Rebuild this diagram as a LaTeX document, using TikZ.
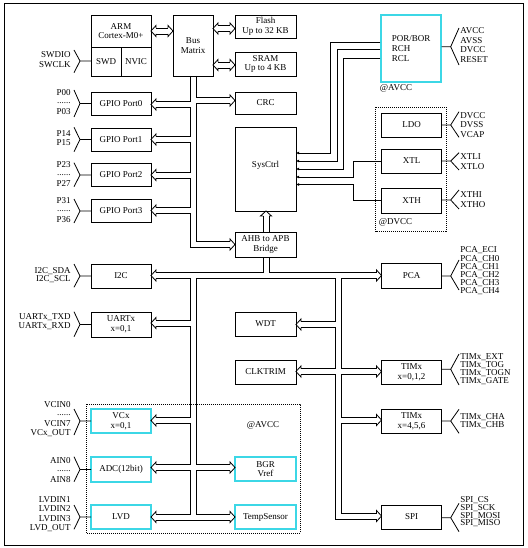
\documentclass[tikz,border=0pt]{standalone}
\usepackage{fontspec}
\setmainfont{Liberation Serif}
\usetikzlibrary{arrows.meta}
\definecolor{cyb}{RGB}{60,215,230}
\lineskiplimit=-100pt
\newcommand\arR[2]{\draw (#1-5,#2-3) -- (#1-5,#2-5.5) -- (#1,#2) -- (#1-5,#2+5.5) -- (#1-5,#2+3);}
\newcommand\arL[2]{\draw (#1+5,#2-3) -- (#1+5,#2-5.5) -- (#1,#2) -- (#1+5,#2+5.5) -- (#1+5,#2+3);}
\newcommand\arU[2]{\draw (#1-3,#2+5) -- (#1-5.5,#2+5) -- (#1,#2) -- (#1+5.5,#2+5) -- (#1+3,#2+5);}
\newcommand\rbr[3]{\draw (441.5,#1) -- (450.7,#1) (459,#2) -- (450.7,#1) -- (459,#3);}
\newcommand\lbr[3]{\draw (91,#1) -- (80,#1) (74,#2) -- (80,#1) -- (74,#3);}
\newcommand\dotrow{\smash{\raisebox{1.5pt}{......}}}
\begin{document}
\begin{tikzpicture}[x=1pt,y=-1pt,line width=0.8pt,
  box/.style={draw,inner sep=0pt,align=center,font=\fontsize{9}{9.8}\selectfont},
  cbox/.style={box,draw=cyb,line width=1.3pt},
  lab/.style={inner sep=0pt,font=\fontsize{9}{#1}\selectfont},
  dotbox/.style={dash pattern=on 0.8pt off 1.2pt},
  sarr/.style={-{Latex[length=3pt,width=3pt]}}]
\useasboundingbox (0,0) rectangle (527,548);
\draw[line width=1pt] (4,4) rectangle (523,545);

% dotted regions
\draw[dotbox] (375.7,107) rectangle (446.7,231.7);
\draw[dotbox] (86,404) rectangle (300,533);

% boxes
\node[box,minimum width=60pt,minimum height=32pt] (arm) at (121,31) {ARM\\Cortex-M0+};
\node[box,minimum width=30pt,minimum height=29pt] (swd) at (106,61.5) {SWD};
\node[box,minimum width=30pt,minimum height=29pt] (nvic) at (136,61.5) {NVIC};
\node[box,minimum width=40pt,minimum height=61pt] (busm) at (193,45.5) {Bus\\Matrix};
\node[box,minimum width=61pt,minimum height=23pt] (flash) at (265.5,26.5) {Flash\\Up to 32 KB};
\node[box,minimum width=61pt,minimum height=24pt] (sram) at (265.5,64) {SRAM\\Up to 4 KB};
\node[box,minimum width=61pt,minimum height=22pt] (crc) at (265.5,103) {CRC};
\node[box,minimum width=61pt,minimum height=84pt] (sysctrl) at (265.5,169) {};
\node[lab=9.8] (systxt) at (265.5,165) {SysCtrl};
\node[box,minimum width=61pt,minimum height=25pt] (bridge) at (265.5,244.5) {AHB to APB\\Bridge};
\node[box,minimum width=60pt,minimum height=23pt] (gpio0) at (121,103.5) {GPIO Port0};
\node[box,minimum width=60pt,minimum height=23pt] (gpio1) at (121,139.5) {GPIO Port1};
\node[box,minimum width=60pt,minimum height=23pt] (gpio2) at (121,175) {GPIO Port2};
\node[box,minimum width=60pt,minimum height=23pt] (gpio3) at (121,211) {GPIO Port3};
\node[box,minimum width=60pt,minimum height=24pt] (i2c) at (121,276) {I2C};
\node[box,minimum width=60pt,minimum height=25pt] (uart) at (121,324.5) {UARTx\\x=0,1};
\node[cbox,minimum width=60pt,minimum height=24pt] (vcx) at (121,421) {VCx\\x=0,1};
\node[cbox,minimum width=60pt,minimum height=25pt] (adc) at (121,469.5) {ADC(12bit)};
\node[cbox,minimum width=60pt,minimum height=24pt] (lvd) at (121,517) {LVD};
\node[cbox,minimum width=61pt,minimum height=24pt] (bgr) at (265.5,469) {BGR\\Vref};
\node[cbox,minimum width=61pt,minimum height=24pt] (temp) at (265.5,517) {TempSensor};
\node[box,minimum width=61pt,minimum height=24pt] (wdt) at (265.5,324) {WDT};
\node[box,minimum width=61pt,minimum height=24pt] (clk) at (265.5,372) {CLKTRIM};
\node[cbox,minimum width=60pt,minimum height=67pt,align=left] (por) at (411,48.5) {POR/BOR\\RCH\\RCL};
\node[box,minimum width=60pt,minimum height=24pt] (ldo) at (411.5,125) {LDO};
\node[box,minimum width=60pt,minimum height=24pt] (xtl) at (411.5,161) {XTL};
\node[box,minimum width=60pt,minimum height=25pt] (xth) at (411.5,200.5) {XTH};
\node[box,minimum width=60pt,minimum height=25pt] (pca) at (411.5,275.5) {PCA};
\node[box,minimum width=60pt,minimum height=24pt] (tim1) at (411.5,372) {TIMx\\x=0,1,2};
\node[box,minimum width=60pt,minimum height=24pt] (tim2) at (411.5,421) {TIMx\\x=4,5,6};
\node[box,minimum width=60pt,minimum height=24pt] (spi) at (411.5,517) {SPI};

\node[lab=9.8,anchor=west] (avcc1) at (379.5,88.3) {@AVCC};
\node[lab=9.8,anchor=west] (dvcc) at (378.5,222.7) {@DVCC};
\node[lab=9.8] (avcc2) at (263,425) {@AVCC};

% short double arrows
\draw (156,28) -- (168,28) (156,34) -- (168,34); \arL{151}{31} \arR{173}{31}
\draw (218,25.5) -- (230,25.5) (218,31.5) -- (230,31.5); \arL{213}{28.5} \arR{235}{28.5}
\draw (218,62) -- (230,62) (218,68) -- (230,68); \arL{213}{65} \arR{235}{65}

% AHB bus
\draw (190.5,76) -- (190.5,101.5) -- (156,101.5);
\draw (156,107.5) -- (190.5,107.5) -- (190.5,136.5) -- (156,136.5);
\draw (156,142.5) -- (190.5,142.5) -- (190.5,172) -- (156,172);
\draw (156,178) -- (190.5,178) -- (190.5,207.5) -- (156,207.5);
\draw (156,213.5) -- (190.5,213.5) -- (190.5,247.5) -- (230,247.5);
\draw (196.5,76) -- (196.5,97.5) -- (230,97.5);
\draw (230,103.5) -- (196.5,103.5) -- (196.5,241.5) -- (230,241.5);
\arL{151}{104.5} \arL{151}{139.5} \arL{151}{175} \arL{151}{210.5}
\arR{235}{100.5} \arR{235}{244.5}

% bridge to sysctrl and APB
\draw (263,232) -- (263,216) (269,232) -- (269,216); \arU{266}{211}
\draw (263,257) -- (263,272.5) (269,257) -- (269,272.5);

% APB bus
\draw (156,272.5) -- (263,272.5) (269,272.5) -- (376.5,272.5);
\draw (156,278.5) -- (190.5,278.5) -- (190.5,320) -- (156,320);
\draw (156,326) -- (190.5,326) -- (190.5,417.5) -- (156,417.5);
\draw (156,423.5) -- (190.5,423.5) -- (190.5,464.5) -- (156,464.5);
\draw (156,470.5) -- (190.5,470.5) -- (190.5,514) -- (156,514);
\draw (230,464.5) -- (196.5,464.5) -- (196.5,278.5) -- (335.5,278.5) -- (335.5,321.5) -- (301,321.5);
\draw (230,470.5) -- (196.5,470.5) -- (196.5,514) -- (230,514);
\draw (156,520) -- (230,520);
\arL{151}{275.5} \arL{151}{323} \arL{151}{420.5} \arL{151}{467.5} \arL{151}{517}
\arR{235}{467.5} \arR{235}{517}

\draw (301,327.5) -- (335.5,327.5) -- (335.5,368.5) -- (301,368.5);
\draw (301,374.5) -- (335.5,374.5) -- (335.5,519) -- (376.5,519);
\draw (376.5,278.5) -- (341.5,278.5) -- (341.5,368.5) -- (376.5,368.5);
\draw (376.5,374.5) -- (341.5,374.5) -- (341.5,417) -- (376.5,417);
\draw (376.5,423) -- (341.5,423) -- (341.5,513) -- (376.5,513);
\arL{296}{324.5} \arL{296}{371.5}
\arR{381.5}{275.5} \arR{381.5}{371.5} \arR{381.5}{420} \arR{381.5}{516}

% sysctrl control lines
\draw[sarr] (por.west |- 0,42) -- (330,42) -- (330,153) -- (296,153);
\draw[sarr] (por.west |- 0,49.5) -- (337,49.5) -- (337,161) -- (296,161);
\draw[sarr] (por.west |- 0,58) -- (343.5,58) -- (343.5,169) -- (296,169);
\draw[sarr] (xtl.west) -- (353,161) -- (353,177) -- (296,177);
\draw[sarr] (381.5,200) -- (353,200) -- (353,184.5) -- (296,184.5);

% right pin labels
\rbr{46.7}{28}{65}
\node[lab=9.5,anchor=west,align=left] (tpor) at (460,45) {AVCC\\AVSS\\DVCC\\RESET};
\rbr{125}{111.7}{137.3}
\node[lab=9.7,anchor=west,align=left] (tldo) at (460,124.8) {DVCC\\DVSS\\VCAP};
\rbr{161}{152.7}{170}
\node[lab=10,anchor=west,align=left] (txtl) at (460,161.7) {XTLI\\XTLO};
\rbr{200}{190}{209}
\node[lab=9.3,anchor=west,align=left] (txth) at (460,199.7) {XTHI\\XTHO};
\rbr{276}{260}{290}
\node[lab=8.2,anchor=west,align=left] (tpca) at (460,271) {PCA\_ECI\\PCA\_CH0\\PCA\_CH1\\PCA\_CH2\\PCA\_CH3\\PCA\_CH4};
\rbr{369.3}{354}{385}
\node[lab=7.8,anchor=west,align=left] (ttim1) at (460,369.3) {TIMx\_EXT\\TIMx\_TOG\\TIMx\_TOGN\\TIMx\_GATE};
\rbr{421}{409.3}{433.3}
\node[lab=8.3,anchor=west,align=left] (ttim2) at (460,420.8) {TIMx\_CHA\\TIMx\_CHB};
\rbr{517.7}{503.3}{531.7}
\node[lab=7.8,anchor=west,align=left] (tspi) at (460,511.7) {SPI\_CS\\SPI\_SCK\\SPI\_MOSI\\SPI\_MISO};

% left pin labels
\lbr{61}{50}{72.7}
\node[lab=10,anchor=east,align=right] (tswd) at (71,60) {SWDIO\\SWCLK};
\lbr{103.5}{90}{117}
\node[lab=9.5,anchor=east,align=right] (tp0) at (71,102) {P00\\\dotrow\\P03};
\lbr{139.5}{127.3}{151.7}
\node[lab=8.7,anchor=east,align=right] (tp1) at (71,138.3) {P14\\P15};
\lbr{175}{162.7}{186.7}
\node[lab=9.5,anchor=east,align=right] (tp2) at (71,174.5) {P23\\\dotrow\\P27};
\lbr{211}{199}{223}
\node[lab=9.6,anchor=east,align=right] (tp3) at (71,209.7) {P31\\\dotrow\\P36};
\lbr{276}{264}{287.3}
\node[lab=8.7,anchor=east,align=right] (ti2c) at (71,275) {I2C\_SDA\\I2C\_SCL};
\lbr{324.5}{311.7}{336.7}
\node[lab=9,anchor=east,align=right] (tuart) at (71,321.5) {UARTx\_TXD\\UARTx\_RXD};
\lbr{421}{409}{435}
\node[lab=9.5,anchor=east,align=right] (tvc) at (71,419) {VCIN0\\\dotrow\\VCIN7\\VCx\_OUT};
\lbr{469.5}{456.7}{481.7}
\node[lab=9.3,anchor=east,align=right] (tadc) at (71,470) {AIN0\\\dotrow\\AIN8};
\lbr{517}{505}{529.3}
\node[lab=9.4,anchor=east,align=right] (tlvd) at (71,514) {LVDIN1\\LVDIN2\\LVDIN3\\LVD\_OUT};
\end{tikzpicture}
\end{document}
